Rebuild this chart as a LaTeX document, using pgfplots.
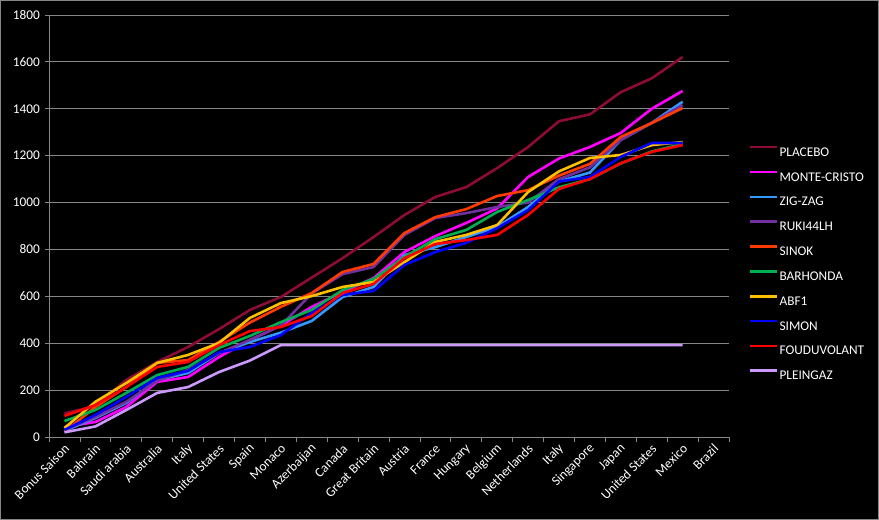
\documentclass[border=0pt]{standalone}
\usepackage{pgfplots}
\pgfplotsset{compat=1.18}
\usepackage{pgfplotstable}
\usepackage{fontspec}
\setmainfont{Carlito}
\definecolor{cPL}{HTML}{8E0B35}
\definecolor{cMC}{HTML}{FF00FF}
\definecolor{cZZ}{HTML}{3399FF}
\definecolor{cRU}{HTML}{7030A0}
\definecolor{cSI}{HTML}{FF3B00}
\definecolor{cBA}{HTML}{00B050}
\definecolor{cAB}{HTML}{FFC000}
\definecolor{cSM}{HTML}{0000FF}
\definecolor{cFO}{HTML}{FF0000}
\definecolor{cPG}{HTML}{CC99FF}
\definecolor{gridgray}{HTML}{868686}
\pgfplotstableread{
x pl mc zz ru si ba ab sm fo pg
0 100 43 26 30 22 68 38 30 90 20
1 132 64 81 85 128 115 150 94 136 45
2 243 128 145 150 213 188 230 171 213 115
3 320 235 243 240 316 264 316 252 299 188
4 384 256 273 286 328 299 350 282 320 213
5 460 341 358 358 405 380 401 362 392 277
6 542 414 405 414 488 431 508 384 452 326
7 597 475 445 475 555 490 571 435 469 392
8 680 555 495 612 614 542 601 529 516 392
9 763 618 597 695 704 627 640 606 614 392
10 853 678 640 725 738 674 661 623 653 392
11 947 789 776 862 870 768 746 734 763 392
12 1024 857 810 934 938 844 832 789 823 392
13 1066 913 853 955 972 883 862 828 840 392
14 1147 975 896 981 1028 960 904 891 862 392
15 1237 1109 981 1000 1053 1011 1045 968 947 392
16 1347 1188 1090 1100 1115 1065 1133 1090 1058 392
17 1376 1237 1128 1150 1165 1100 1190 1109 1100 392
18 1471 1297 1267 1267 1280 1167 1203 1195 1168 392
19 1530 1400 1340 1340 1339 1218 1245 1254 1216 392
20 1621 1476 1430 1416 1403 1250 1258 1254 1245 392
}\data
\begin{document}
\begin{tikzpicture}
\fill[black] (0,0) rectangle (879bp,520bp);
\draw[gridgray, line width=1bp] (0.5bp,0.5bp) rectangle (878.5bp,519.5bp);
\begin{axis}[
  at={(49bp,83bp)}, anchor=south west,
  width=680bp, height=422bp, scale only axis,
  xmin=-0.5, xmax=21.5, ymin=0, ymax=1800,
  axis x line*=bottom, axis y line*=left,
  axis line style={draw=gridgray, line width=0.8bp, -},
  xtick={0,...,21},
  xticklabels={Bonus Saison, Bahrain, Saudi arabia, Australia, Italy, United States, Spain, Monaco, Azerbaijan, Canada, Great Britain, Austria, France, Hungary, Belgium, Netherlands, Italy, Singapore, Japan, United States, Mexico, Brazil},
  minor xtick={-0.5,0.5,...,21.5},
  ytick={0,200,...,1800},
  ymajorgrids,
  grid style={gridgray, line width=0.8bp},
  tick align=outside,
  major tick length=4bp, minor tick length=5bp,
  major x tick style={draw=none},
  minor x tick style={draw=gridgray, line width=0.8bp},
  major y tick style={draw=gridgray, line width=0.8bp},
  tick label style={font=\fontsize{13.3bp}{16bp}\selectfont, text=white},
  xticklabel style={xshift=4bp, yshift=-4bp, rotate=45, anchor=east, inner sep=2bp},
  yticklabel style={xshift=-3bp, inner sep=2bp},
  /pgf/number format/assume math mode=true,
  /pgf/number format/1000 sep={},
  every axis plot/.append style={line width=2.6bp},
  legend image code/.code={\draw[#1] (0bp,4.3bp) -- (27bp,4.3bp);},
  legend cell align=left,
  legend style={at={(1.0294,0.690)}, anchor=north west, draw=none, fill=none,
    inner sep=0pt, outer sep=0pt, row sep=14.5bp, column sep=1bp,
    nodes={inner sep=0pt, text height=9.5bp, text depth=0pt, text=white,
      font=\fontsize{13.3bp}{16bp}\selectfont}},
]
\addplot[cPL] table[x=x,y=pl]{\data};
\addlegendentry{PLACEBO}
\addplot[cMC] table[x=x,y=mc]{\data};
\addlegendentry{MONTE-CRISTO}
\addplot[cZZ] table[x=x,y=zz]{\data};
\addlegendentry{ZIG-ZAG}
\addplot[cRU] table[x=x,y=ru]{\data};
\addlegendentry{RUKI44LH}
\addplot[cSI] table[x=x,y=si]{\data};
\addlegendentry{SINOK}
\addplot[cBA] table[x=x,y=ba]{\data};
\addlegendentry{BARHONDA}
\addplot[cAB] table[x=x,y=ab]{\data};
\addlegendentry{ABF1}
\addplot[cSM] table[x=x,y=sm]{\data};
\addlegendentry{SIMON}
\addplot[cFO] table[x=x,y=fo]{\data};
\addlegendentry{FOUDUVOLANT}
\addplot[cPG] table[x=x,y=pg]{\data};
\addlegendentry{PLEINGAZ}
\end{axis}
\end{tikzpicture}
\end{document}
